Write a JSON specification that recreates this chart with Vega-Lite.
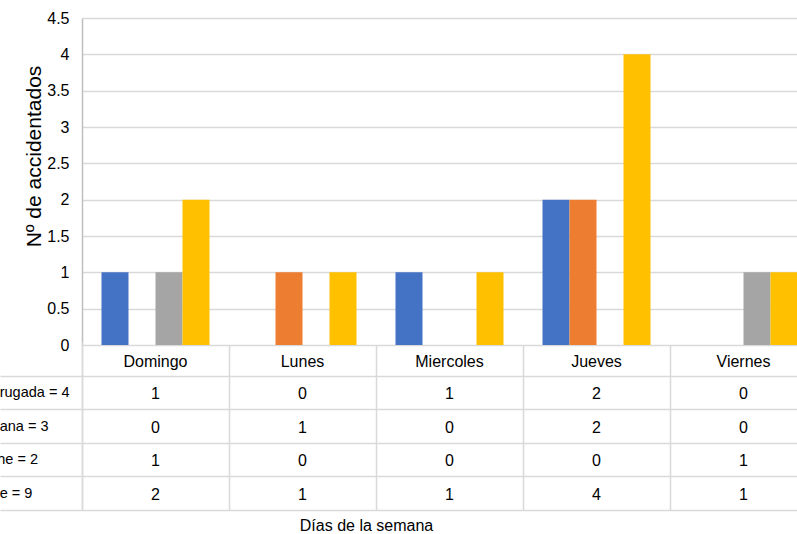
{
  "$schema": "https://vega.github.io/schema/vega-lite/v6.json",
  "autosize": {"type": "none"},
  "padding": {"left": 82, "top": 18, "right": 0, "bottom": 24},
  "width": 715,
  "height": 492,
  "background": "white",
  "config": {
    "view": {"stroke": null},
    "font": "Liberation Sans, Arial, sans-serif",
    "text": {"font": "Liberation Sans, Arial, sans-serif", "fontSize": 16, "color": "#000000"}
  },
  "data": {
    "values": [
      {"dia": "Domingo", "serie": "Madrugada = 4", "valor": 1},
      {"dia": "Lunes", "serie": "Madrugada = 4", "valor": 0},
      {"dia": "Miercoles", "serie": "Madrugada = 4", "valor": 1},
      {"dia": "Jueves", "serie": "Madrugada = 4", "valor": 2},
      {"dia": "Viernes", "serie": "Madrugada = 4", "valor": 0},
      {"dia": "Domingo", "serie": "Mañana = 3", "valor": 0},
      {"dia": "Lunes", "serie": "Mañana = 3", "valor": 1},
      {"dia": "Miercoles", "serie": "Mañana = 3", "valor": 0},
      {"dia": "Jueves", "serie": "Mañana = 3", "valor": 2},
      {"dia": "Viernes", "serie": "Mañana = 3", "valor": 0},
      {"dia": "Domingo", "serie": "Noche = 2", "valor": 1},
      {"dia": "Lunes", "serie": "Noche = 2", "valor": 0},
      {"dia": "Miercoles", "serie": "Noche = 2", "valor": 0},
      {"dia": "Jueves", "serie": "Noche = 2", "valor": 0},
      {"dia": "Viernes", "serie": "Noche = 2", "valor": 1},
      {"dia": "Domingo", "serie": "Tarde = 9", "valor": 2},
      {"dia": "Lunes", "serie": "Tarde = 9", "valor": 1},
      {"dia": "Miercoles", "serie": "Tarde = 9", "valor": 1},
      {"dia": "Jueves", "serie": "Tarde = 9", "valor": 4},
      {"dia": "Viernes", "serie": "Tarde = 9", "valor": 1}
    ]
  },
  "resolve": {"scale": {"y": "independent"}, "axis": {"y": "independent"}},
  "layer": [
    {
      "mark": {"type": "bar"},
      "encoding": {
        "x": {
          "field": "dia",
          "type": "nominal",
          "sort": ["Domingo", "Lunes", "Miercoles", "Jueves", "Viernes"],
          "scale": {"range": [0, 735], "paddingInner": 0, "paddingOuter": 0},
          "axis": {
            "orient": "top",
            "offset": -492,
            "labels": false,
            "domain": false,
            "grid": false,
            "ticks": true,
            "tickBand": "extent",
            "tickSize": 165,
            "tickColor": "#d9d9d9",
            "tickWidth": 1.5,
            "title": "Días de la semana",
            "titleFont": "Liberation Sans, Arial, sans-serif",
            "titleFontSize": 16,
            "titleFontWeight": "normal",
            "titleColor": "#000000",
            "titleX": 284,
            "titleY": 15,
            "titleAlign": "center",
            "titleBaseline": "middle",
            "titleAngle": 0
          }
        },
        "xOffset": {
          "field": "serie",
          "type": "nominal",
          "sort": ["Madrugada = 4", "Mañana = 3", "Noche = 2", "Tarde = 9"],
          "scale": {"paddingInner": 0, "paddingOuter": 0.722}
        },
        "y": {
          "field": "valor",
          "type": "quantitative",
          "scale": {"domain": [0, 4.5], "range": [327, 0], "nice": false, "zero": true},
          "axis": {
            "orient": "left",
            "values": [0, 0.5, 1, 1.5, 2, 2.5, 3, 3.5, 4, 4.5],
            "format": "~g",
            "grid": true,
            "gridColor": "#d9d9d9",
            "gridWidth": 1.5,
            "ticks": false,
            "domain": true,
            "domainColor": "#bfbfbf",
            "domainWidth": 1.5,
            "labelFont": "Liberation Sans, Arial, sans-serif",
            "labelFontSize": 16,
            "labelColor": "#000000",
            "labelPadding": 13,
            "title": "Nº de accidentados",
            "titleFont": "Liberation Sans, Arial, sans-serif",
            "titleFontSize": 21,
            "titleFontWeight": "normal",
            "titleColor": "#000000",
            "titleX": -48,
            "titleY": 138,
            "titleAngle": 270,
            "titleAlign": "center",
            "titleBaseline": "middle"
          }
        },
        "color": {
          "field": "serie",
          "type": "nominal",
          "scale": {
            "domain": ["Madrugada = 4", "Mañana = 3", "Noche = 2", "Tarde = 9"],
            "range": ["#4472C4", "#ED7D31", "#A5A5A5", "#FFC000"]
          },
          "legend": null
        }
      }
    },
    {
      "layer": [
        {
          "mark": {"type": "text", "align": "center", "baseline": "middle", "dy": 1.5},
          "encoding": {
            "x": {"field": "dia", "type": "nominal", "sort": ["Domingo", "Lunes", "Miercoles", "Jueves", "Viernes"]},
            "y": {
              "field": "serie",
              "type": "nominal",
              "scale": {
                "domain": ["hdr", "Madrugada = 4", "Mañana = 3", "Noche = 2", "Tarde = 9"],
                "range": [324, 492],
                "paddingInner": 0,
                "paddingOuter": 0
              },
              "axis": {
                "orient": "left",
                "values": ["Madrugada = 4", "Mañana = 3", "Noche = 2", "Tarde = 9"],
                "tickBand": "extent",
                "ticks": true,
                "tickSize": 82,
                "tickColor": "#d9d9d9",
                "tickWidth": 1.5,
                "grid": true,
                "gridColor": "#d9d9d9",
                "gridWidth": 1.5,
                "domain": true,
                "domainColor": "#d9d9d9",
                "domainWidth": 1.5,
                "labelFont": "Liberation Sans, Arial, sans-serif",
                "labelFontSize": 14.5,
                "labelColor": "#000000",
                "labelAlign": "left",
                "labelPadding": 29,
                "title": null
              }
            },
            "text": {"field": "valor", "type": "quantitative"}
          }
        },
        {
          "transform": [{"filter": "datum.serie === 'Tarde = 9'"}],
          "mark": {"type": "text", "align": "center", "baseline": "middle", "dy": 3},
          "encoding": {
            "x": {"field": "dia", "type": "nominal", "sort": ["Domingo", "Lunes", "Miercoles", "Jueves", "Viernes"]},
            "y": {"datum": "hdr", "type": "nominal"},
            "text": {"field": "dia", "type": "nominal"}
          }
        }
      ]
    }
  ]
}
